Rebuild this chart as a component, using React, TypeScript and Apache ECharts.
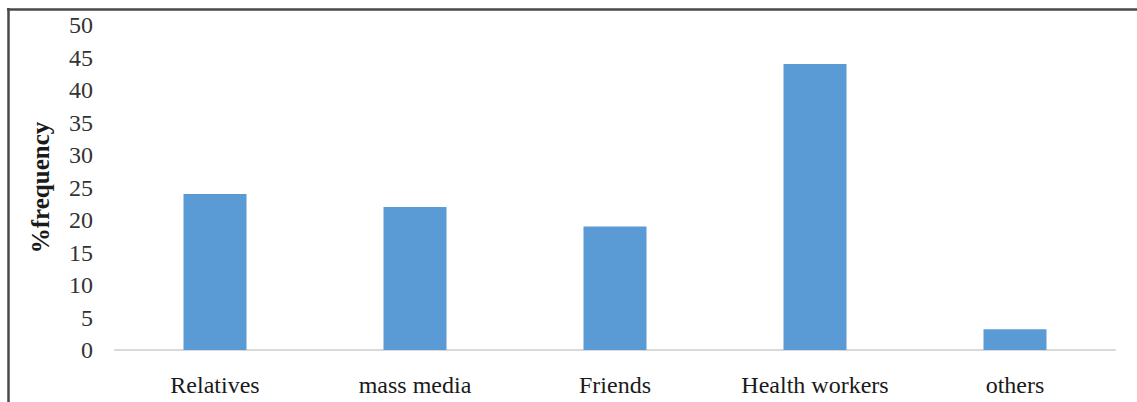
import React, { useEffect, useRef } from "react";
import * as echarts from "echarts";

const categories = ["Relatives", "mass media", "Friends", "Health workers", "others"];
const values = [24, 22, 19, 44, 3.2];
const yTicks = [0, 50, 5];

export default function App() {
  const ref = useRef<HTMLDivElement>(null);
  useEffect(() => {
    if (!ref.current) return;
    const chart = echarts.init(ref.current, null, { renderer: "svg" });
    const font = "'Liberation Serif', 'Times New Roman', serif";
    chart.setOption({
      animation: false,
      backgroundColor: "#ffffff",
      grid: { left: 115, right: 22, top: 25, bottom: 52, containLabel: false },
      xAxis: {
        type: "category",
        data: categories,
        axisLine: { show: true, lineStyle: { color: "#d9d9d9", width: 2 } },
        axisTick: { show: false },
        axisLabel: { color: "#1a1a1a", fontFamily: font, fontSize: 24, margin: 23 },
        splitLine: { show: false },
      },
      yAxis: {
        type: "value",
        min: yTicks[0],
        max: yTicks[1],
        interval: yTicks[2],
        name: "%frequency",
        nameLocation: "middle",
        nameGap: 62,
        nameRotate: 90,
        nameTextStyle: { color: "#1a1a1a", fontFamily: font, fontSize: 25, fontWeight: "bold" },
        axisLine: { show: false },
        axisTick: { show: false },
        splitLine: { show: false },
        axisLabel: { color: "#333333", fontFamily: font, fontSize: 24, margin: 22 },
      },
      series: [
        {
          type: "bar",
          data: values,
          barWidth: 63,
          itemStyle: { color: "#5B9BD5" },
        },
      ],
      graphic: [
        { type: "line", shape: { x1: 8.5, y1: 8, x2: 8.5, y2: 402 }, style: { stroke: "#4a4a4a", lineWidth: 2.5 } },
        { type: "line", shape: { x1: 7, y1: 9.5, x2: 1137, y2: 9.5 }, style: { stroke: "#4a4a4a", lineWidth: 2.5 } },
      ],
    });
    return () => chart.dispose();
  }, []);
  return (
    <div
      ref={ref}
      style={{ position: "absolute", left: 0, top: 0, width: 1137, height: 402 }}
    />
  );
}
